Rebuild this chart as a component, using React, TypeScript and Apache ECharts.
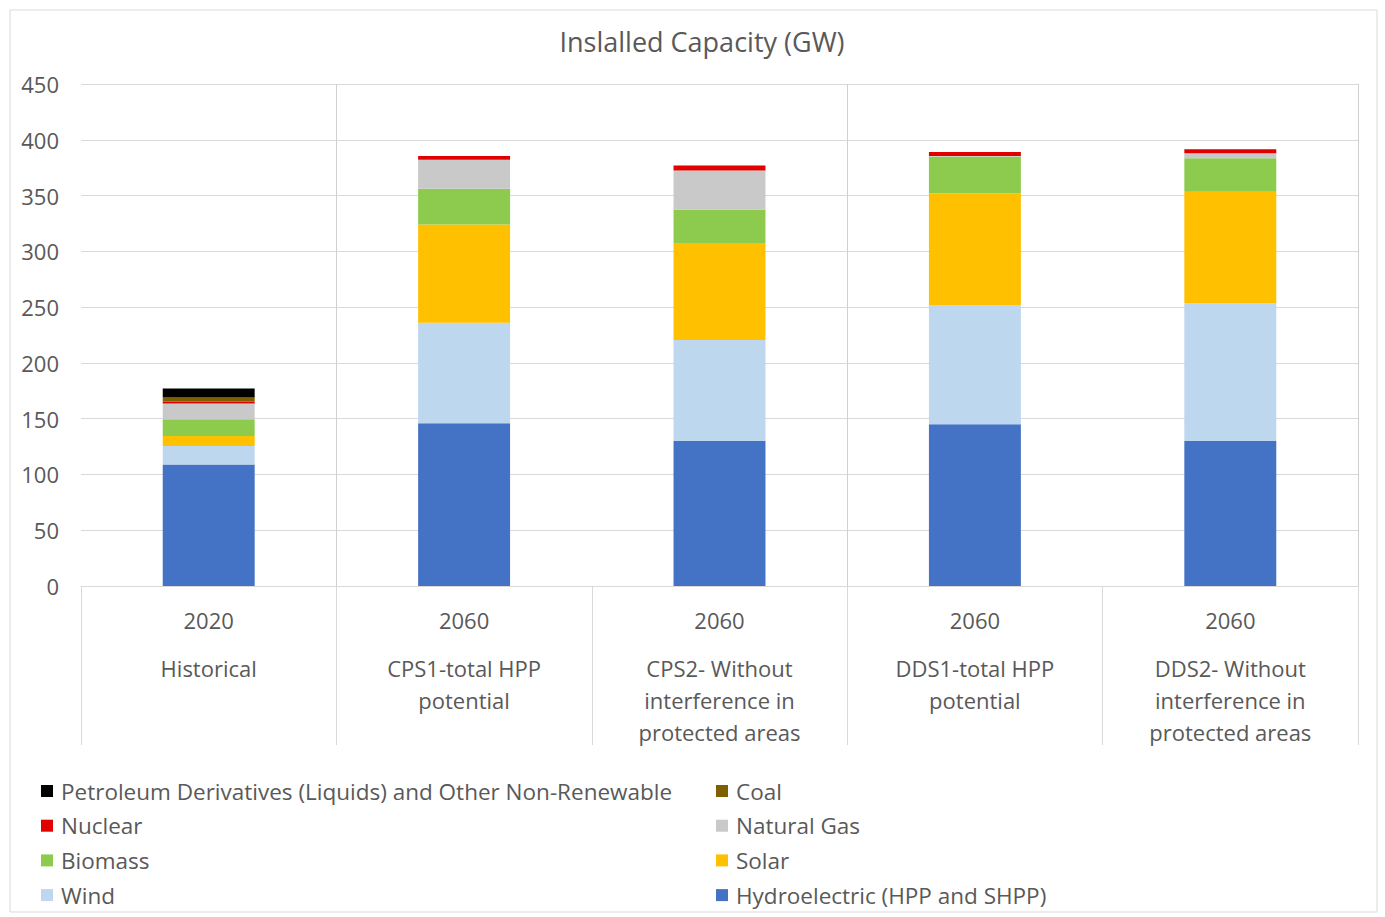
import React, { useEffect, useRef } from "react";
import * as echarts from "echarts";

const years = ["2020", "2060", "2060", "2060", "2060"];
const scenarios = [
  "Historical",
  "CPS1-total HPP\npotential",
  "CPS2- Without\ninterference in\nprotected areas",
  "DDS1-total HPP\npotential",
  "DDS2- Without\ninterference in\nprotected areas",
];

// stacked from bottom to top
const hydro = [109, 146, 130, 145, 130];
const wind = [16.5, 90, 90.5, 107, 123.5];
const solar = [9, 88, 87, 100, 100];
const biomass = [15, 32, 30, 33, 30];
const naturalGas = [14, 26, 35, 0.5, 4.5];
const nuclear = [2, 3.5, 4.5, 3.5, 3.5];
const coal = [3.5, 0, 0, 0, 0];
const petroleum = [8, 0, 0, 0, 0];

const yTicks = { min: 0, max: 450, interval: 50 };

const FONT = "'Open Sans', sans-serif";
const TXT = "#595959";

export default function App() {
  const ref = useRef<HTMLDivElement>(null);
  useEffect(() => {
    if (!ref.current) return;
    const chart = echarts.init(ref.current, null, { renderer: "svg" });
    const seriesDefs = [
      { name: "Hydroelectric (HPP and SHPP)", data: hydro, color: "#4472C4" },
      { name: "Wind", data: wind, color: "#BDD7EE" },
      { name: "Solar", data: solar, color: "#FFC000" },
      { name: "Biomass", data: biomass, color: "#8DCB4F" },
      { name: "Natural Gas", data: naturalGas, color: "#C9C9C9" },
      { name: "Nuclear", data: nuclear, color: "#E00000" },
      { name: "Coal", data: coal, color: "#7F6000" },
      { name: "Petroleum Derivatives (Liquids) and Other Non-Renewable", data: petroleum, color: "#000000" },
    ];
    const legendText = {
      color: TXT,
      fontFamily: FONT,
      fontSize: 22.5,
      lineHeight: 24,
      padding: [0, 0, 0, 3],
    };
    const legendBase = {
      orient: "vertical",
      top: 779,
      height: 138,
      padding: 0,
      itemWidth: 12,
      itemHeight: 12,
      itemGap: 10.7,
      icon: "rect",
      textStyle: legendText,
    };
    chart.setOption({
      animation: false,
      backgroundColor: "#ffffff",
      textStyle: { fontFamily: FONT },
      title: {
        text: "Inslalled Capacity (GW)",
        left: 697,
        textAlign: "center",
        top: 23,
        textStyle: { color: TXT, fontSize: 27, fontWeight: "normal", fontFamily: FONT },
      },
      graphic: [
        {
          type: "rect",
          shape: { x: 10, y: 10, width: 1367, height: 902 },
          style: { fill: "none", stroke: "#d9d9d9", lineWidth: 1 },
          silent: true,
        },
      ],
      legend: [
        {
          ...legendBase,
          left: 41,
          data: [
            "Petroleum Derivatives (Liquids) and Other Non-Renewable",
            "Nuclear",
            "Biomass",
            "Wind",
          ],
        },
        {
          ...legendBase,
          left: 716,
          data: ["Coal", "Natural Gas", "Solar", "Hydroelectric (HPP and SHPP)"],
        },
      ],
      grid: { left: 81, right: 27, top: 84, bottom: 331, containLabel: false },
      xAxis: {
        type: "category",
        data: years.map((y, i) => y + "|" + scenarios[i]),
        axisLine: { lineStyle: { color: "#d9d9d9", width: 1 } },
        axisTick: { show: true, interval: 0, length: 159, lineStyle: { color: "#d9d9d9" } },
        splitLine: {
          show: true,
          interval: (i: number) => i === 1 || i === 3,
          lineStyle: { color: "#d0d0d0", width: 1 },
        },
        axisLabel: {
          interval: 0,
          margin: 2,
          formatter: (v: string) => {
            const [y, s] = v.split("|");
            return "{y|" + y + "}\n" + s.split("\n").map((l) => "{d|" + l + "}").join("\n");
          },
          rich: {
            y: { fontSize: 22, color: TXT, fontFamily: FONT, lineHeight: 64 },
            d: { fontSize: 22, color: TXT, fontFamily: FONT, lineHeight: 32 },
          },
        },
      },
      yAxis: {
        type: "value",
        min: yTicks.min,
        max: yTicks.max,
        interval: yTicks.interval,
        axisLine: { show: false },
        axisTick: { show: false },
        splitLine: { lineStyle: { color: "#d9d9d9", width: 1 } },
        axisLabel: { color: TXT, fontSize: 22, fontFamily: FONT, margin: 22 },
      },
      series: seriesDefs.map((s) => ({
        name: s.name,
        type: "bar",
        stack: "total",
        barWidth: "36%",
        data: s.data,
        itemStyle: { color: s.color },
        emphasis: { disabled: true },
      })),
    });
    return () => chart.dispose();
  }, []);
  return (
    <div
      ref={ref}
      style={{ position: "fixed", left: 0, top: 0, width: 1385, height: 917, background: "#fff" }}
    />
  );
}
